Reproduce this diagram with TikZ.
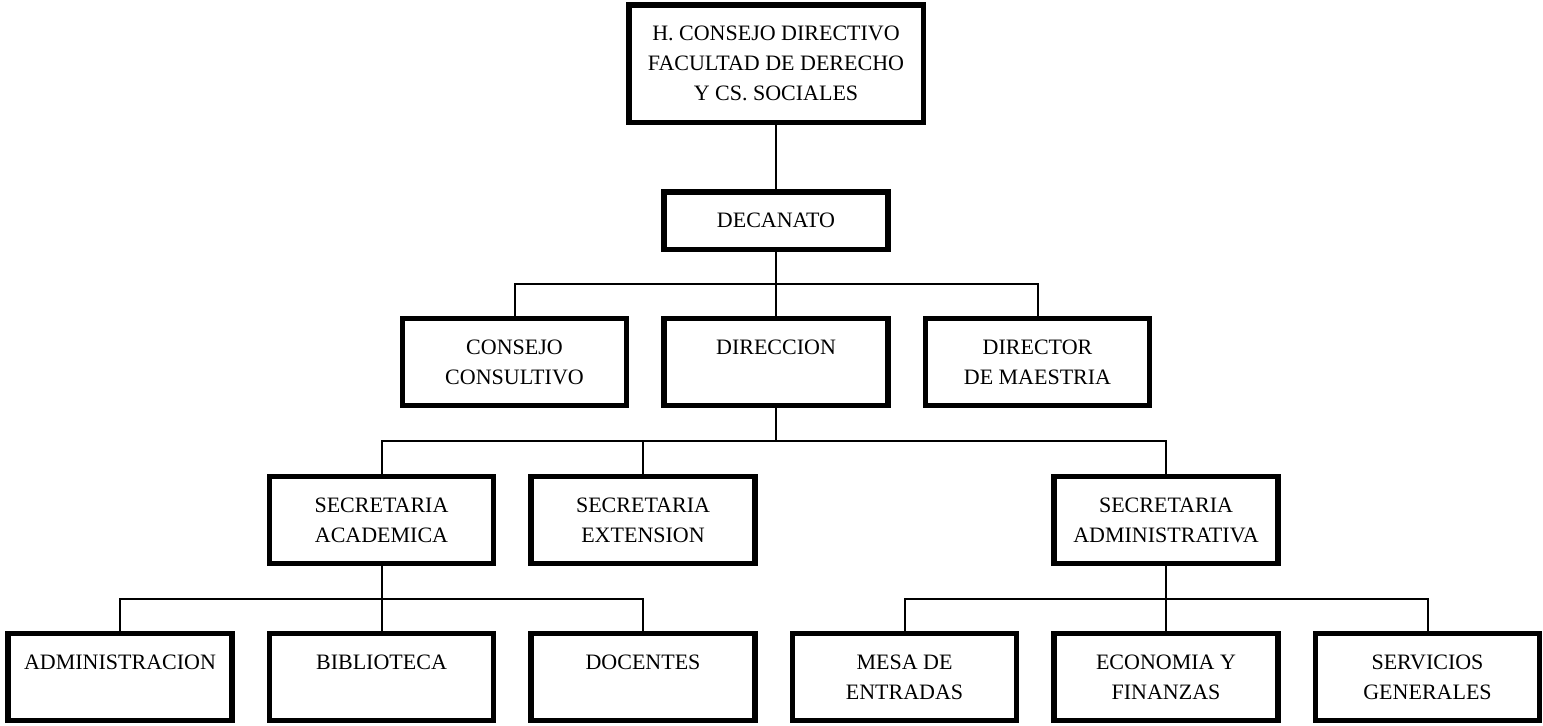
\documentclass[tikz,border=0pt]{standalone}
\usepackage{fontspec}
\setmainfont{Liberation Serif}
\usetikzlibrary{positioning,calc}

\begin{document}
\begin{tikzpicture}[
    x=0.5pt,y=-0.5pt,
    node distance=16pt and 16pt,
    org/.style={draw,line width=2.75pt,font=\fontsize{11}{15}\selectfont,minimum width=112pt,minimum height=43.5pt,align=center,inner sep=2pt},
    link/.style={line width=1pt}
  ]
  \fill[white] (0,0) rectangle (1543,725);
  \useasboundingbox (0,0) rectangle (1543,725);

  \node[org,minimum width=147.25pt,minimum height=58.75pt] (consejo) at (776,63.5) {H. CONSEJO DIRECTIVO\\FACULTAD DE DERECHO\\Y CS. SOCIALES};
  \node[org,minimum height=28.75pt] (decanato) at (776,220.5) {DECANATO};

  \node[org] (direccion) at (776,362) {DIRECCION\\\mbox{}};
  \node[org,left=of direccion] (consultivo) {CONSEJO\\CONSULTIVO};
  \node[org,right=of direccion] (maestria) {DIRECTOR\\DE MAESTRIA};

  \node[org] (sacad) at (381.5,520) {SECRETARIA\\ACADEMICA};
  \node[org,right=of sacad] (sext) {SECRETARIA\\EXTENSION};
  \node[org] (sadmin) at (1166,520) {SECRETARIA\\ADMINISTRATIVA};

  \node[org] (admin) at (120,677) {ADMINISTRACION\\\mbox{}};
  \node[org,right=of admin] (biblioteca) {BIBLIOTECA\\\mbox{}};
  \node[org,right=of biblioteca] (docentes) {DOCENTES\\\mbox{}};
  \node[org,right=of docentes] (mesa) {MESA DE\\ENTRADAS};
  \node[org,right=of mesa] (economia) {ECONOMIA Y\\FINANZAS};
  \node[org,right=of economia] (servicios) {SERVICIOS\\GENERALES};

  \draw[link] (consejo) -- (decanato);
  \draw[link] (decanato) -- (direccion);
  \coordinate (bus1) at ($(decanato.south)!0.5!(direccion.north)$);
  \draw[link] (consultivo.north) |- (bus1) -| (maestria.north);

  \coordinate (bus2) at ($(direccion.south)!0.5!(direccion.south |- sacad.north)$);
  \draw[link] (direccion.south) -- (bus2);
  \draw[link] (sacad.north) |- (bus2) -| (sadmin.north);
  \draw[link] (sext.north) -- (sext.north |- bus2);

  \coordinate (bus3) at ($(sacad.south)!0.5!(biblioteca.north)$);
  \draw[link] (sacad) -- (biblioteca);
  \draw[link] (admin.north) |- (bus3) -| (docentes.north);

  \coordinate (bus4) at ($(sadmin.south)!0.5!(economia.north)$);
  \draw[link] (sadmin) -- (economia);
  \draw[link] (mesa.north) |- (bus4) -| (servicios.north);
\end{tikzpicture}
\end{document}
